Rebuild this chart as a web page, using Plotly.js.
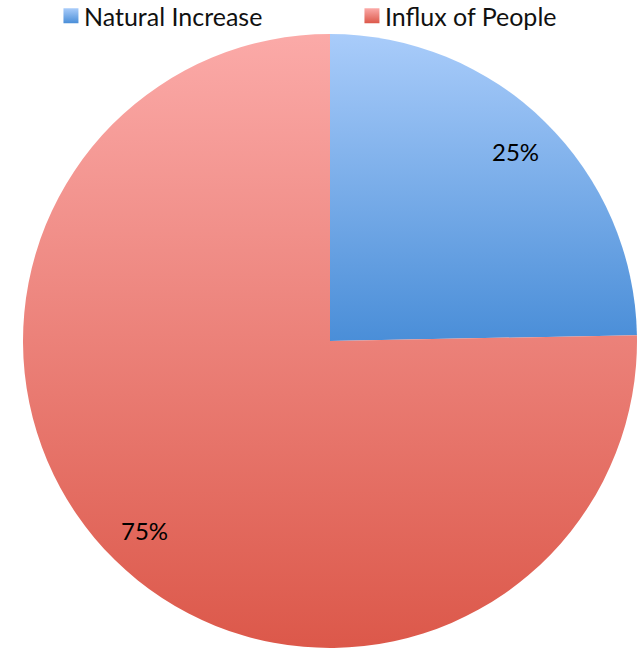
<!DOCTYPE html>
<html><head><meta charset="utf-8">
<script src="https://cdn.plot.ly/plotly-3.0.1.min.js"></script>
<style>html,body{margin:0;padding:0;background:#fff}#chart{width:644px;height:653px}</style>
</head><body><div id="chart"></div>
<script>
// Data
var categories = ["Natural Increase", "Influx of People"];
var shares = [24.7, 75.3];
var labelsText = ["25%", "75%"];
var topColors = ["#a9ccfa", "#fbaaa8"];
var bottomColors = ["#4a8ed8", "#dc584a"];

var W = 644, H = 653;
var M = {l: 22, r: 6, t: 34, b: 5, autoexpand: false};
var plotW = W - M.l - M.r, plotH = H - M.t - M.b;
var R = Math.min(plotW, plotH) / 2;
var cx = plotW / 2, cy = plotH / 2;

// label annotations computed from data angles
var total = shares.reduce(function(a,b){return a+b;},0);
var annotations = [];
var acc = 0;
for (var i = 0; i < shares.length; i++) {
  var mid = (acc + shares[i] / 2) / total * 2 * Math.PI;
  acc += shares[i];
  var px = cx + 0.865 * R * Math.sin(mid);
  var py = cy - 0.865 * R * Math.cos(mid);
  annotations.push({
    xref: "paper", yref: "paper",
    x: px / plotW, y: 1 - py / plotH,
    text: labelsText[i], showarrow: false,
    font: {family: "Lato, 'Open Sans', sans-serif", size: 24, color: "#000"},
    xanchor: "center", yanchor: "middle"
  });
}

var trace = {
  type: "pie",
  labels: categories,
  values: shares,
  sort: false,
  direction: "clockwise",
  rotation: 0,
  textinfo: "none",
  hoverinfo: "label+percent",
  marker: {colors: ["#7fb0ea", "#ee8480"], line: {width: 0}}
};

var layout = {
  width: W, height: H,
  margin: M,
  paper_bgcolor: "#fff",
  plot_bgcolor: "#fff",
  showlegend: true,
  legend: {
    orientation: "h",
    xref: "paper", x: 0.047, xanchor: "left",
    yref: "container", y: 1.0, yanchor: "top",
    font: {family: "Lato, 'Open Sans', sans-serif", size: 25, color: "#111"},
    entrywidth: 256,
    borderwidth: 0,
    bgcolor: "rgba(0,0,0,0)"
  },
  annotations: annotations
};

Plotly.newPlot("chart", [trace], layout, {displayModeBar: false, staticPlot: true}).then(function(gd){
  var svg = gd.querySelector("svg.main-svg");
  var ns = "http://www.w3.org/2000/svg";
  var defs = svg.querySelector("defs") || svg.insertBefore(document.createElementNS(ns, "defs"), svg.firstChild);
  for (var i = 0; i < categories.length; i++) {
    var g = document.createElementNS(ns, "linearGradient");
    g.setAttribute("id", "grad" + i);
    g.setAttribute("x1", "0"); g.setAttribute("y1", "0");
    g.setAttribute("x2", "0"); g.setAttribute("y2", "1");
    var s1 = document.createElementNS(ns, "stop");
    s1.setAttribute("offset", "0"); s1.setAttribute("stop-color", topColors[i]);
    var s2 = document.createElementNS(ns, "stop");
    s2.setAttribute("offset", "1"); s2.setAttribute("stop-color", bottomColors[i]);
    g.appendChild(s1); g.appendChild(s2);
    defs.appendChild(g);
  }
  var slices = gd.querySelectorAll(".pielayer .slice path.surface");
  slices.forEach(function(p, i){ p.style.fill = "url(#grad" + i + ")"; });
  var legPts = gd.querySelectorAll(".legend .traces .legendpoints path");
  legPts.forEach(function(p, i){
    p.style.fill = "url(#grad" + i + ")";
    p.setAttribute("transform", (p.getAttribute("transform") || "") + " scale(1.25)");
  });
  var legTexts = gd.querySelectorAll(".legend .traces text.legendtext");
  legTexts.forEach(function(t){ t.setAttribute("x", "33"); });
  var leg = gd.querySelector("g.legend");
  if (leg) {
    var tr = leg.getAttribute("transform") || "";
    var m = tr.match(/translate\(\s*([-\d.]+)[ ,]+([-\d.]+)\s*\)/);
    if (m) leg.setAttribute("transform", "translate(" + m[1] + "," + (parseFloat(m[2]) - 7) + ")");
  }
});
</script></body></html>
